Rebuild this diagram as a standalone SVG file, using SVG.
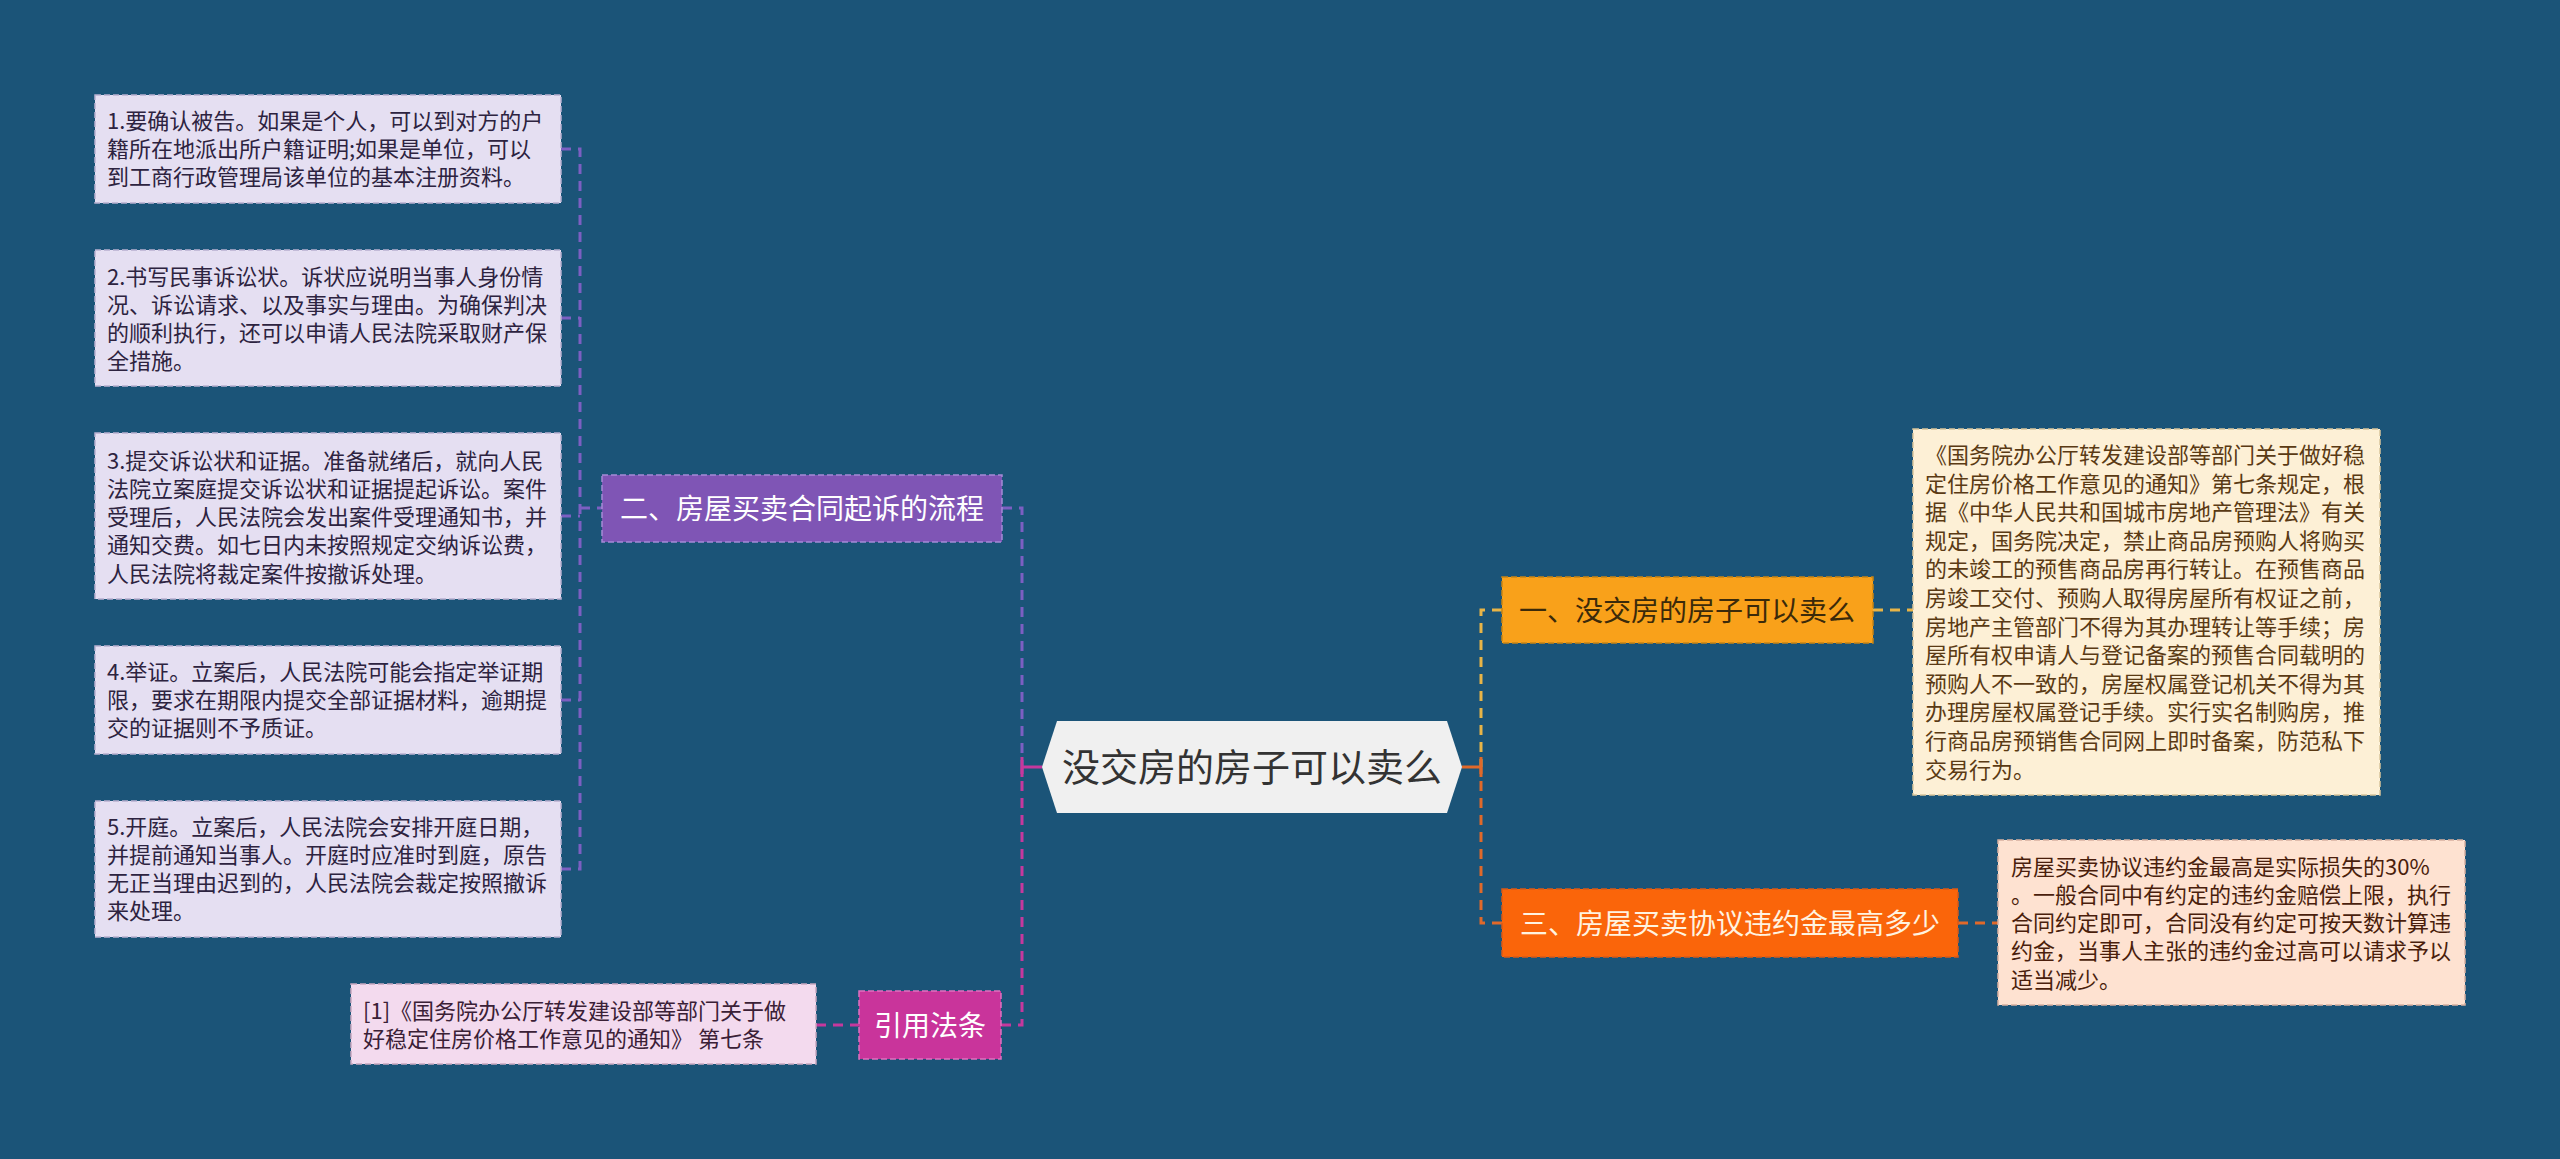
<svg xmlns="http://www.w3.org/2000/svg" width="2560" height="1159" viewBox="0 0 2560 1159">
<style>
text{font-family:"Noto Sans CJK SC","Noto Sans",sans-serif;}
.lt{font-size:22px;}
.mt{font-size:28px;text-anchor:middle;}
.c{fill:none;stroke-width:3;stroke-dasharray:10 7;}
.s{fill:none;stroke-width:3;}
.bx{stroke-width:1.5;stroke-dasharray:6 3;}
</style>
<rect width="2560" height="1159" fill="#1b5478"/>
<g id="connectors">
<path class="c" stroke="#7c5fc2" d="M561,149 H580 V869 H561 M561,318 H580 M561,516 H580 M561,700 H580 M580,508 H602"/>
<path class="c" stroke="#7c5fc2" d="M1002,508 H1022 V767"/>
<path class="c" stroke="#c6389d" d="M1001,1025 H1022 V767"/>
<path class="s" stroke="#c6389d" d="M1022,767 H1042 M1022,757 V777"/>
<path class="c" stroke="#e8b447" d="M1502,610 H1481 V767"/>
<path class="c" stroke="#e0692a" d="M1502,923 H1481 V767"/>
<path class="s" stroke="#e0692a" d="M1462,767 H1481 M1481,757 V777"/>
<path class="c" stroke="#e8b447" d="M1873,610 H1913"/>
<path class="c" stroke="#e0692a" d="M1958,923 H1998"/>
<path class="c" stroke="#c6389d" d="M816,1025 H859"/>
</g>
<g id="root">
<polygon points="1042,767 1057,721 1447,721 1462,767 1447,813 1057,813" fill="#f0f0f0"/>
<text x="1252" y="781" font-size="38" text-anchor="middle" fill="#333">没交房的房子可以卖么</text>
</g>
<g id="n2">
<rect class="bx" x="602" y="475" width="400" height="67" fill="#7f55b5" stroke="#a58ad6"/>
<text class="mt" x="802" y="519" fill="#ffffff">二、房屋买卖合同起诉的流程</text>
</g>
<g id="n1">
<rect class="bx" x="1502" y="577" width="371" height="66" fill="#f9a11a" stroke="#c88414"/>
<text class="mt" x="1687" y="621" fill="#3b2a0a">一、没交房的房子可以卖么</text>
</g>
<g id="n3">
<rect class="bx" x="1502" y="889" width="456" height="68" fill="#fa650a" stroke="#d85a18"/>
<text class="mt" x="1730" y="934" fill="#fff3e0">三、房屋买卖协议违约金最高多少</text>
</g>
<g id="ref">
<rect class="bx" x="859" y="991" width="142" height="68" fill="#c9349b" stroke="#e070c0"/>
<text class="mt" x="930" y="1036" fill="#ffffff">引用法条</text>
</g>
<g id="leaf1">
<rect class="bx" x="95" y="95" width="466" height="108" fill="#e5dff2" stroke="#b8b0d0"/>
<text class="lt" fill="#2d2340"><tspan x="107" y="129">1.要确认被告。如果是个人，可以到对方的户</tspan><tspan x="107" y="157">籍所在地派出所户籍证明;如果是单位，可以</tspan><tspan x="107" y="185">到工商行政管理局该单位的基本注册资料。</tspan></text>
</g>
<g id="leaf2">
<rect class="bx" x="95" y="250" width="466" height="136" fill="#e5dff2" stroke="#b8b0d0"/>
<text class="lt" fill="#2d2340"><tspan x="107" y="285">2.书写民事诉讼状。诉状应说明当事人身份情</tspan><tspan x="107" y="313">况、诉讼请求、以及事实与理由。为确保判决</tspan><tspan x="107" y="341">的顺利执行，还可以申请人民法院采取财产保</tspan><tspan x="107" y="369">全措施。</tspan></text>
</g>
<g id="leaf3">
<rect class="bx" x="95" y="433" width="466" height="166" fill="#e5dff2" stroke="#b8b0d0"/>
<text class="lt" fill="#2d2340"><tspan x="107" y="469">3.提交诉讼状和证据。准备就绪后，就向人民</tspan><tspan x="107" y="497">法院立案庭提交诉讼状和证据提起诉讼。案件</tspan><tspan x="107" y="525">受理后，人民法院会发出案件受理通知书，并</tspan><tspan x="107" y="553">通知交费。如七日内未按照规定交纳诉讼费，</tspan><tspan x="107" y="582">人民法院将裁定案件按撤诉处理。</tspan></text>
</g>
<g id="leaf4">
<rect class="bx" x="95" y="646" width="466" height="108" fill="#e5dff2" stroke="#b8b0d0"/>
<text class="lt" fill="#2d2340"><tspan x="107" y="680">4.举证。立案后，人民法院可能会指定举证期</tspan><tspan x="107" y="708">限，要求在期限内提交全部证据材料，逾期提</tspan><tspan x="107" y="736">交的证据则不予质证。</tspan></text>
</g>
<g id="leaf5">
<rect class="bx" x="95" y="801" width="466" height="136" fill="#e5dff2" stroke="#b8b0d0"/>
<text class="lt" fill="#2d2340"><tspan x="107" y="835">5.开庭。立案后，人民法院会安排开庭日期，</tspan><tspan x="107" y="863">并提前通知当事人。开庭时应准时到庭，原告</tspan><tspan x="107" y="891">无正当理由迟到的，人民法院会裁定按照撤诉</tspan><tspan x="107" y="919">来处理。</tspan></text>
</g>
<g id="leaf6">
<rect class="bx" x="1913" y="429" width="467" height="366" fill="#fdf0d6" stroke="#d8c49a"/>
<text class="lt" fill="#5a3a14"><tspan x="1925" y="463">《国务院办公厅转发建设部等部门关于做好稳</tspan><tspan x="1925" y="491.6">定住房价格工作意见的通知》第七条规定，根</tspan><tspan x="1925" y="520.2">据《中华人民共和国城市房地产管理法》有关</tspan><tspan x="1925" y="548.8">规定，国务院决定，禁止商品房预购人将购买</tspan><tspan x="1925" y="577.4">的未竣工的预售商品房再行转让。在预售商品</tspan><tspan x="1925" y="606">房竣工交付、预购人取得房屋所有权证之前，</tspan><tspan x="1925" y="634.6">房地产主管部门不得为其办理转让等手续；房</tspan><tspan x="1925" y="663.2">屋所有权申请人与登记备案的预售合同载明的</tspan><tspan x="1925" y="691.8">预购人不一致的，房屋权属登记机关不得为其</tspan><tspan x="1925" y="720.4">办理房屋权属登记手续。实行实名制购房，推</tspan><tspan x="1925" y="749">行商品房预销售合同网上即时备案，防范私下</tspan><tspan x="1925" y="777.6">交易行为。</tspan></text>
</g>
<g id="leaf7">
<rect class="bx" x="1998" y="840" width="467" height="165" fill="#fee2d1" stroke="#d8b0a0"/>
<text class="lt" fill="#4a1e0c"><tspan x="2011" y="875">房屋买卖协议违约金最高是实际损失的30%</tspan><tspan x="2011" y="903">。一般合同中有约定的违约金赔偿上限，执行</tspan><tspan x="2011" y="931">合同约定即可，合同没有约定可按天数计算违</tspan><tspan x="2011" y="959">约金，当事人主张的违约金过高可以请求予以</tspan><tspan x="2011" y="988">适当减少。</tspan></text>
</g>
<g id="leaf8">
<rect class="bx" x="351" y="984" width="465" height="80" fill="#f3daee" stroke="#c8a8c0"/>
<text class="lt" fill="#3a2036"><tspan x="363" y="1019">[1]《国务院办公厅转发建设部等部门关于做</tspan><tspan x="363" y="1047">好稳定住房价格工作意见的通知》 第七条</tspan></text>
</g>
</svg>
